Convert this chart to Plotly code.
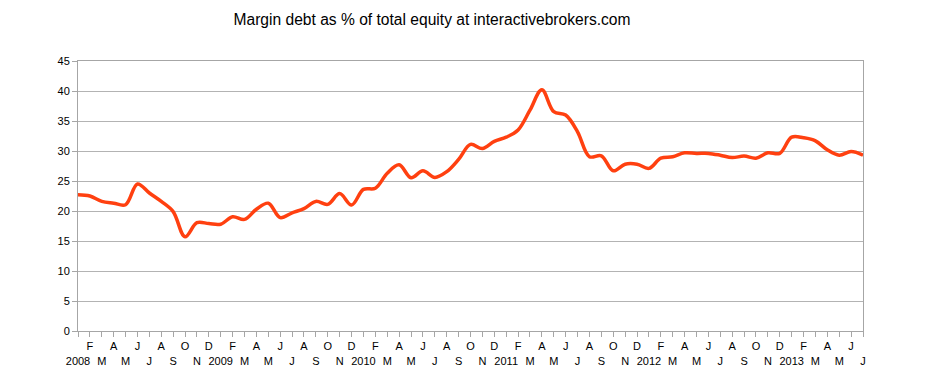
import plotly.graph_objects as go

months = ["J", "F", "M", "A", "M", "J", "J", "A", "S", "O", "N", "D"]
years = [2008, 2009, 2010, 2011, 2012, 2013]

margin_pct = [
    22.7, 22.5, 21.6, 21.3, 21.05, 24.5, 23.0, 21.6, 19.9, 15.7, 18.05, 17.9,
    17.8, 19.05, 18.6, 20.3, 21.3, 18.9, 19.7, 20.4, 21.6, 21.1, 22.9, 21.0,
    23.6, 23.8, 26.3, 27.7, 25.55, 26.7, 25.6, 26.55, 28.6, 31.1, 30.4, 31.6,
    32.3, 33.5, 36.8, 40.2, 36.55, 36.0, 33.2, 29.05, 29.2, 26.7, 27.8, 27.8,
    27.1, 28.8, 29.05, 29.7, 29.6, 29.6, 29.3, 28.9, 29.15, 28.8, 29.7, 29.6,
    32.3, 32.2, 31.7, 30.2, 29.3, 29.9, 29.3,
]

title_text = "Margin debt as % of total equity at interactivebrokers.com"

# build category labels (alternating rows, year on January)
x_idx = list(range(len(margin_pct)))
tick_text = []
for i in x_idx:
    m = i % 12
    lab = str(years[i // 12]) if m == 0 else months[m]
    if i % 2 == 0:
        tick_text.append("\u00a0<br>" + lab)
    else:
        tick_text.append(lab)

W, H = 938, 380  # page body has an 8px margin

fig = go.Figure()
fig.add_trace(go.Scatter(
    x=x_idx, y=margin_pct, mode="lines",
    line=dict(color="#ff4010", width=3.5, shape="spline", smoothing=1.0),
    hoverinfo="y",
))

grey = "#a6a6a6"
fig.update_layout(
    width=W, height=H,
    margin=dict(l=70, r=83, t=53, b=57),
    paper_bgcolor="white", plot_bgcolor="white",
    showlegend=False,
    font=dict(family="Liberation Sans, Arial, sans-serif", size=11, color="#000000"),
    title=dict(text=title_text, x=424 / W, xanchor="center", xref="container",
               y=(H - 12) / H, yanchor="middle", yref="container",
               font=dict(size=15.6, color="#000000")),
)
fig.update_xaxes(
    range=[0, len(margin_pct) - 1], tickmode="array", tickvals=x_idx, ticktext=tick_text,
    showgrid=False, zeroline=False, showline=True, linecolor=grey, linewidth=1,
    mirror=True, ticks="outside", ticklen=5, tickcolor=grey, tickangle=0,
    tickfont=dict(size=11),
)
fig.update_yaxes(
    range=[0, 45], dtick=5, tick0=0,
    showgrid=True, gridcolor="#b3b3b3", gridwidth=1, zeroline=False,
    showline=True, linecolor=grey, linewidth=1, mirror=True,
    ticks="outside", ticklen=5, tickcolor=grey, tickfont=dict(size=11),
)

fig.write_html("out.html")
